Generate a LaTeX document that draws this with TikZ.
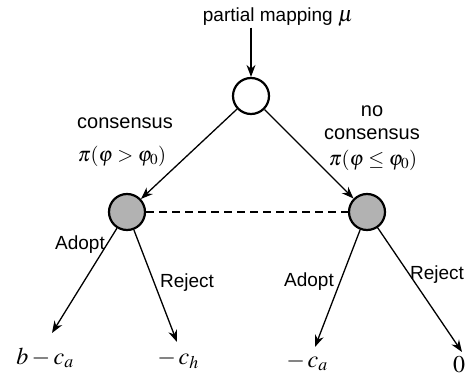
\documentclass[tikz,border=0pt]{standalone}
\usepackage{mathptmx}
\usepackage{fontspec}
\setmainfont{Liberation Sans}
\usetikzlibrary{arrows.meta}

\begin{document}
\begin{tikzpicture}
  [x=1pt,y=-1pt,
   every node/.style={font=\fontsize{19}{23}\selectfont,inner sep=1pt},
   state/.style={circle,draw,line width=2.2pt,minimum size=36pt,inner sep=0pt},
   choice/.style={state,fill=black!30},
   edge/.style={-{Stealth[length=12pt,width=9pt]},line width=1.3pt},
   cond/.style={font=\fontsize{20}{23}\selectfont},
   prob/.style={font=\fontsize{20.5}{23}\selectfont},
   leaf/.style={font=\fontsize{24}{26}\selectfont}]
  \useasboundingbox (0,0) rectangle (473,385);
  % decision tree
  \node (map) at (278,17) {partial mapping {\fontsize{22}{22}\selectfont$\mu$}};
  \node (root)[state] at (251,96) {};
  \node (yes)[choice] at (127,212) {};
  \node (no)[choice] at (367,212) {};
  \node (yeslab)[cond] at (125,123) {consensus};
  \node (yesprob)[prob] at (122,156) {$\pi(\varphi>\varphi_0)$};
  \node (nolab1)[cond] at (372,111) {no};
  \node (nolab2)[cond] at (372,134) {consensus};
  \node (noprob)[prob] at (373,160) {$\pi(\varphi\le\varphi_0)$};
  \coordinate (ya) at (52,333);
  \coordinate (yr) at (177,342);
  \coordinate (na) at (315,347);
  \coordinate (nr) at (462,352);
  \node (yapay)[leaf] at (45,358) {$b-c_a$};
  \node (yrpay)[leaf] at (178,360) {$-\,c_h$};
  \node (napay)[leaf] at (307,362) {$-\,c_a$};
  \node (nrpay)[leaf] at (459,365) {$0$};
  \node (yaact) at (80,245) {Adopt};
  \node (yract) at (187,283) {Reject};
  \node (naact) at (309,282) {Adopt};
  \node (nract) at (437,275) {Reject};
  \draw[edge] (map.south -| root) -- (root);
  \draw[edge] (root) -- (yes);
  \draw[edge] (root) -- (no);
  \draw[dashed,line width=1.3pt,dash pattern=on 8pt off 5pt] (yes) -- (no);
  \draw[edge] (yes) -- (ya);
  \draw[edge] (yes) -- (yr);
  \draw[edge] (no) -- (na);
  \draw[edge] (no) -- (nr);
\end{tikzpicture}
\end{document}
